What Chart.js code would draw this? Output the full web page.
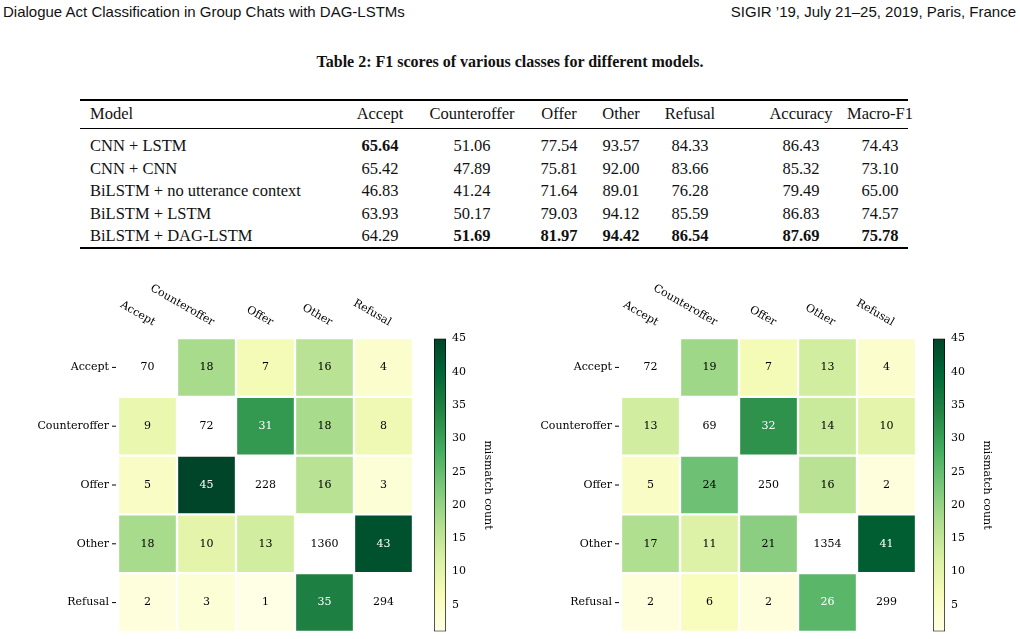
<!DOCTYPE html>
<html>
<head>
<meta charset="utf-8">
<script src="https://cdn.jsdelivr.net/npm/chart.js@4"></script>
<style>
  body { margin: 0; width: 1020px; height: 639px; background: #fff; position: relative; overflow: hidden; }
  .abs { position: absolute; white-space: nowrap; }
  .hdr { font-family: "Liberation Sans", sans-serif; font-size: 15px; top: 3px; color: #111; }
  .serif { font-family: "Liberation Serif", serif; font-size: 16.5px; color: #111; }
  .rule { position: absolute; left: 80px; width: 828px; background: #000; }
  canvas { position: absolute; }
</style>
</head>
<body>
<div class="abs hdr" style="left:3px">Dialogue Act Classification in Group Chats with DAG-LSTMs</div>
<div class="abs hdr" style="right:4px">SIGIR ’19, July 21–25, 2019, Paris, France</div>
<div class="abs serif" style="left:0;width:1020px;text-align:center;top:53px;font-weight:bold;font-size:16px">Table 2: F1 scores of various classes for different models.</div>
<div class="rule" style="top:99px;height:1.5px"></div>
<div class="rule" style="top:128px;height:1px"></div>
<div class="rule" style="top:247px;height:1.5px"></div>
<div id="table"></div>

<canvas id="hmLeft" width="420" height="355" style="left:0px;top:280px"></canvas>
<canvas id="cbLeft" width="76" height="310" style="left:420px;top:330px"></canvas>
<canvas id="hmRight" width="420" height="355" style="left:503px;top:280px"></canvas>
<canvas id="cbRight" width="76" height="310" style="left:919px;top:330px"></canvas>

<script>
const tableHeaders = ["Model", "Accept", "Counteroffer", "Offer", "Other", "Refusal", "Accuracy", "Macro-F1"];
const tableModels = ["CNN + LSTM", "CNN + CNN", "BiLSTM + no utterance context", "BiLSTM + LSTM", "BiLSTM + DAG-LSTM"];
const tableScores = [
  ["65.64", "51.06", "77.54", "93.57", "84.33", "86.43", "74.43"],
  ["65.42", "47.89", "75.81", "92.00", "83.66", "85.32", "73.10"],
  ["46.83", "41.24", "71.64", "89.01", "76.28", "79.49", "65.00"],
  ["63.93", "50.17", "79.03", "94.12", "85.59", "86.83", "74.57"],
  ["64.29", "51.69", "81.97", "94.42", "86.54", "87.69", "75.78"]
];
const tableBold = [[0, 0], [4, 1], [4, 2], [4, 3], [4, 4], [4, 5], [4, 6]];

const classes = ["Accept", "Counteroffer", "Offer", "Other", "Refusal"];
const leftCounts = [
  [70, 18, 7, 16, 4],
  [9, 72, 31, 18, 8],
  [5, 45, 228, 16, 3],
  [18, 10, 13, 1360, 43],
  [2, 3, 1, 35, 294]
];
const rightCounts = [
  [72, 19, 7, 13, 4],
  [13, 69, 32, 14, 10],
  [5, 24, 250, 16, 2],
  [17, 11, 21, 1354, 41],
  [2, 6, 2, 26, 299]
];
const colorbarTicks = [5, 10, 15, 20, 25, 30, 35, 40, 45];
const colorMin = 1;
const colorMax = 45;

// table
const colCenters = [null, 380, 472, 559, 621, 690, 801, 880];
const table = document.getElementById("table");
function addCell(text, col, top, bold) {
  const el = document.createElement("div");
  el.className = "abs serif";
  el.textContent = text;
  el.style.top = top + "px";
  if (col === 0) {
    el.style.left = "90px";
  } else {
    el.style.left = colCenters[col] + "px";
    el.style.transform = "translateX(-50%)";
  }
  if (bold) el.style.fontWeight = "bold";
  table.appendChild(el);
}
tableHeaders.forEach((h, c) => addCell(h, c, 104, false));
tableModels.forEach((m, r) => {
  const top = 136 + r * 22.5;
  addCell(m, 0, top, false);
  tableScores[r].forEach((v, c) => {
    const bold = tableBold.some((b) => b[0] === r && b[1] === c);
    addCell(v, c + 1, top, bold);
  });
});

// YlGn colormap
const ylgn = ["#ffffe5", "#f7fcb9", "#d9f0a3", "#addd8e", "#78c679", "#41ab5d", "#238443", "#006837", "#004529"];
function hexRgb(h) {
  return [1, 3, 5].map((i) => parseInt(h.slice(i, i + 2), 16));
}
function colorFor(v) {
  let t = (v - colorMin) / (colorMax - colorMin);
  t = Math.max(0, Math.min(1, t)) * (ylgn.length - 1);
  const i = Math.min(Math.floor(t), ylgn.length - 2);
  const f = t - i;
  const a = hexRgb(ylgn[i]);
  const b = hexRgb(ylgn[i + 1]);
  const c = a.map((x, k) => Math.round(x + (b[k] - x) * f));
  return `rgb(${c[0]},${c[1]},${c[2]})`;
}

const serifFont = '"DejaVu Serif", serif';

function createHeatmap(id, counts) {
  // stacked bars: dataset k draws row (4 - k) so Accept ends up on top
  const datasets = counts.map((row, r) => ({
    label: classes[r],
    data: classes.map(() => 1),
    backgroundColor: row.map((v, c) => (r === c ? "#ffffff" : colorFor(v))),
    borderColor: "#ffffff",
    borderWidth: 1.5,
    borderSkipped: false,
    rowIndex: r
  })).reverse();

  const labelsPlugin = {
    id: "cellLabels",
    afterDatasetsDraw(chart) {
      const ctx = chart.ctx;
      const area = chart.chartArea;
      const x = chart.scales.x;
      ctx.save();
      ctx.font = "11px " + serifFont;
      chart.data.datasets.forEach((ds, di) => {
        const meta = chart.getDatasetMeta(di);
        meta.data.forEach((bar, c) => {
          const r = ds.rowIndex;
          const v = counts[r][c];
          ctx.fillStyle = r !== c && v > 25 ? "#ffffff" : "#000000";
          ctx.textAlign = "center";
          ctx.textBaseline = "middle";
          ctx.fillText(String(v), bar.x, (bar.y + bar.base) / 2);
          if (c === 0) {
            const cy = (bar.y + bar.base) / 2;
            ctx.fillStyle = "#000";
            ctx.textAlign = "right";
            ctx.fillText(classes[r], area.left - 9, cy);
            ctx.beginPath();
            ctx.moveTo(area.left - 6, cy);
            ctx.lineTo(area.left - 2, cy);
            ctx.strokeStyle = "#000";
            ctx.lineWidth = 1;
            ctx.stroke();
          }
        });
      });
      classes.forEach((name, c) => {
        const cx = x.getPixelForValue(c);
        ctx.save();
        ctx.translate(cx + 4, area.top - 10);
        ctx.rotate(Math.PI / 6);
        ctx.fillStyle = "#000";
        ctx.textAlign = "right";
        ctx.textBaseline = "bottom";
        ctx.fillText(name, 0, 0);
        ctx.restore();
      });
      ctx.restore();
    }
  };

  new Chart(document.getElementById(id), {
    type: "bar",
    data: { labels: classes, datasets: datasets },
    options: {
      responsive: false,
      animation: false,
      layout: { padding: { left: 118, top: 58, right: 7, bottom: 3 } },
      datasets: { bar: { categoryPercentage: 1, barPercentage: 1 } },
      scales: {
        x: { stacked: true, display: false },
        y: { stacked: true, display: false, min: 0, max: 5 }
      },
      plugins: { legend: { display: false }, tooltip: { enabled: false } }
    },
    plugins: [labelsPlugin]
  });
}

function createColorbar(id) {
  new Chart(document.getElementById(id), {
    type: "bar",
    data: {
      labels: [""],
      datasets: [{
        data: [[colorMin, colorMax]],
        borderColor: "#000",
        borderWidth: 1,
        borderSkipped: false,
        backgroundColor(context) {
          const area = context.chart.chartArea;
          if (!area) return ylgn[0];
          const g = context.chart.ctx.createLinearGradient(0, area.bottom, 0, area.top);
          ylgn.forEach((col, i) => g.addColorStop(i / (ylgn.length - 1), col));
          return g;
        }
      }]
    },
    options: {
      responsive: false,
      animation: false,
      layout: { padding: { left: 14, top: 8, bottom: 7, right: 0 } },
      datasets: { bar: { categoryPercentage: 1, barPercentage: 1 } },
      scales: {
        x: { display: false },
        y: {
          position: "right",
          min: colorMin,
          max: colorMax,
          grid: { display: false, drawTicks: true, tickLength: 4 },
          border: { display: false },
          afterBuildTicks(scale) {
            scale.ticks = colorbarTicks.map((v) => ({ value: v }));
          },
          afterFit(scale) {
            scale.width = 50;
          },
          ticks: { color: "#000", padding: 2, font: { family: serifFont, size: 11 } },
          title: { display: true, text: "mismatch count", color: "#000", padding: 2, font: { family: serifFont, size: 11 } }
        }
      },
      plugins: { legend: { display: false }, tooltip: { enabled: false } }
    }
  });
}

createHeatmap("hmLeft", leftCounts);
createHeatmap("hmRight", rightCounts);
createColorbar("cbLeft");
createColorbar("cbRight");
</script>
</body>
</html>
